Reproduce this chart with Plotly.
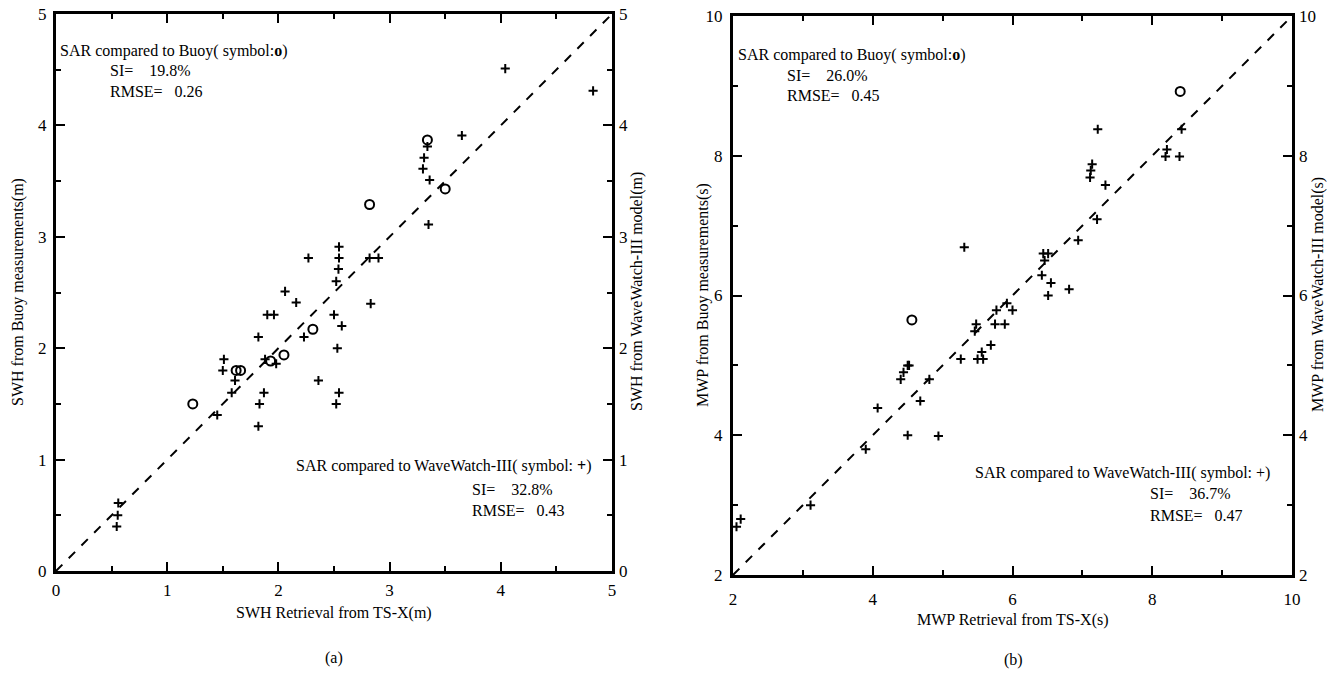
import plotly.graph_objects as go

W, H = 1336, 673

# ---- Panel (a) SWH ----
swh_buoy_x = [1.23, 1.62, 1.66, 1.93, 2.05, 2.31, 2.82, 3.34, 3.50]
swh_buoy_y = [1.50, 1.80, 1.80, 1.885, 1.94, 2.17, 3.29, 3.87, 3.43]
swh_ww3_x = [0.56, 0.555, 0.546, 1.45, 1.50, 1.51, 1.58, 1.61, 1.82, 1.83, 1.82, 1.87, 1.88,
             1.90, 1.96, 1.98, 2.06, 2.16, 2.23, 2.36, 2.50, 2.53, 2.57, 2.545, 2.52, 2.52,
             2.27, 2.545, 2.545, 2.54, 2.82, 2.90, 2.83, 3.35, 3.36, 3.30, 3.31, 3.34, 3.65,
             4.04, 4.83]
swh_ww3_y = [0.61, 0.50, 0.40, 1.40, 1.80, 1.90, 1.60, 1.71, 2.10, 1.50, 1.30, 1.60, 1.90,
             2.30, 2.30, 1.86, 2.51, 2.41, 2.10, 1.71, 2.30, 2.00, 2.20, 1.60, 1.50, 2.60,
             2.81, 2.91, 2.81, 2.71, 2.81, 2.81, 2.40, 3.11, 3.51, 3.61, 3.71, 3.81, 3.91,
             4.51, 4.31]
swh_diag = [0, 5]
swh_ticks = [0, 1, 2, 3, 4, 5]

# ---- Panel (b) MWP ----
mwp_buoy_x = [4.56, 8.40]
mwp_buoy_y = [5.65, 8.92]
mwp_ww3_x = [2.05, 2.11, 3.11, 3.90, 4.07, 4.40, 4.44, 4.50, 4.52, 4.50, 4.68, 4.81, 4.94,
             5.26, 5.46, 5.48, 5.50, 5.56, 5.58, 5.69, 5.75, 5.77, 5.89, 5.92, 6.00,
             5.31, 6.44, 6.51, 6.46, 6.42, 6.55, 6.51, 6.81, 6.94, 7.21, 7.33, 7.11, 7.12,
             7.14, 7.22, 8.19, 8.21, 8.39, 8.42]
mwp_ww3_y = [2.69, 2.80, 3.00, 3.80, 4.39, 4.80, 4.90, 5.00, 5.00, 4.00, 4.49, 4.80, 3.99,
             5.09, 5.49, 5.59, 5.09, 5.19, 5.09, 5.29, 5.59, 5.79, 5.59, 5.89, 5.79,
             6.69, 6.60, 6.60, 6.50, 6.29, 6.18, 6.00, 6.09, 6.79, 7.09, 7.58, 7.69, 7.79,
             7.88, 8.38, 7.99, 8.09, 7.99, 8.38]
mwp_diag = [2, 10]
mwp_ticks = [2, 4, 6, 8, 10]

FONT = "Liberation Serif"
fig = go.Figure()

plus = dict(symbol="cross-thin", size=6.5, line=dict(width=2, color="black"), color="black")
circ = dict(symbol="circle-open", size=9, line=dict(width=2, color="black"), color="black")

fig.add_trace(go.Scatter(x=swh_diag, y=swh_diag, mode="lines", line=dict(color="black", width=2, dash="dash"),
                         xaxis="x", yaxis="y", showlegend=False))
fig.add_trace(go.Scatter(x=swh_ww3_x, y=swh_ww3_y, mode="markers", marker=plus, xaxis="x", yaxis="y", showlegend=False))
fig.add_trace(go.Scatter(x=swh_buoy_x, y=swh_buoy_y, mode="markers", marker=circ, xaxis="x", yaxis="y", showlegend=False))

fig.add_trace(go.Scatter(x=mwp_diag, y=mwp_diag, mode="lines", line=dict(color="black", width=2, dash="dash"),
                         xaxis="x2", yaxis="y2", showlegend=False))
fig.add_trace(go.Scatter(x=mwp_ww3_x, y=mwp_ww3_y, mode="markers", marker=plus, xaxis="x2", yaxis="y2", showlegend=False))
fig.add_trace(go.Scatter(x=mwp_buoy_x, y=mwp_buoy_y, mode="markers", marker=circ, xaxis="x2", yaxis="y2", showlegend=False))
# invisible traces to activate right-side axes
fig.add_trace(go.Scatter(x=[None], y=[None], xaxis="x", yaxis="y3", showlegend=False))
fig.add_trace(go.Scatter(x=[None], y=[None], xaxis="x2", yaxis="y4", showlegend=False))

def px_x(p):
    return p / W

def px_y(p):
    return 1 - p / H

tickfont = dict(family=FONT, size=17, color="black")

def ax(rng, dom, ticks, minor_dtick, anchor, standoff):
    return dict(range=rng, domain=dom, tickvals=ticks, ticktext=[str(t) for t in ticks], ticks="inside",
                ticklen=9, tickwidth=2, tickcolor="black", showgrid=False, zeroline=False,
                showline=True, linewidth=3, linecolor="black", mirror="ticks", automargin=False,
                tickfont=tickfont, anchor=anchor, ticklabelstandoff=standoff,
                minor=dict(ticks="inside", ticklen=5, tickwidth=1.5, tickcolor="black",
                           dtick=minor_dtick, showgrid=False))

def right_ax(rng, ticks, overlay, anchor):
    return dict(range=rng, tickvals=ticks, ticktext=[str(t) for t in ticks], side="right",
                overlaying=overlay, anchor=anchor, showline=False, ticks="", showgrid=False,
                zeroline=False, tickfont=tickfont, ticklabelstandoff=6, automargin=False)

xa_dom = [px_x(56), px_x(612)]
ya_dom = [px_y(571), px_y(14)]
xb_dom = [px_x(733), px_x(1292)]
yb_dom = [px_y(575), px_y(16)]

fig.update_layout(
    width=W, height=H, margin=dict(l=0, r=0, t=0, b=0, pad=0, autoexpand=False),
    paper_bgcolor="white", plot_bgcolor="white",
    xaxis=ax([0, 5], xa_dom, swh_ticks, 0.5, "y", 2),
    yaxis=ax([0, 5], ya_dom, swh_ticks, 0.5, "x", 3),
    yaxis3=right_ax([0, 5], swh_ticks, "y", "x"),
    xaxis2=ax([2, 10], xb_dom, mwp_ticks, 1, "y2", 7),
    yaxis2=ax([2, 10], yb_dom, mwp_ticks, 1, "x2", 4),
    yaxis4=right_ax([2, 10], mwp_ticks, "y2", "x2"),
)

NB = "\u00a0"
anns = [
    # panel a
    (58, 51, "SAR compared to Buoy( symbol:<b>o</b>)", "left", 0),
    (108, 71, "SI=" + NB * 4 + "19.8%", "left", 0),
    (108, 92, "RMSE=" + NB * 3 + "0.26", "left", 0),
    (294, 466, "SAR compared to WaveWatch-III( symbol: <b>+</b>)", "left", 0),
    (470, 489, "SI=" + NB * 4 + "32.8%", "left", 0),
    (470, 510, "RMSE=" + NB * 3 + "0.43", "left", 0),
    (334, 613, "SWH Retrieval from TS-X(m)", "center", 0),
    (334, 658, "(a)", "center", 0),
    (18, 292, "SWH from Buoy measurements(m)", "center", -90),
    (637, 292, "SWH from WaveWatch-III model(m)", "center", -90),
    # panel b
    (736, 55, "SAR compared to Buoy( symbol:<b>o</b>)", "left", 0),
    (785, 75, "SI=" + NB * 4 + "26.0%", "left", 0),
    (785, 96, "RMSE=" + NB * 3 + "0.45", "left", 0),
    (973, 473, "SAR compared to WaveWatch-III( symbol: +)", "left", 0),
    (1148, 494, "SI=" + NB * 4 + "36.7%", "left", 0),
    (1148, 515, "RMSE=" + NB * 3 + "0.47", "left", 0),
    (1013, 620, "MWP Retrieval from TS-X(s)", "center", 0),
    (1013, 660, "(b)", "center", 0),
    (703, 295, "MWP from Buoy measurements(s)", "center", -90),
    (1318, 295, "MWP from WaveWatch-III model(s)", "center", -90),
]
for x, y, t, xa, ang in anns:
    fig.add_annotation(x=px_x(x), y=px_y(y), xref="paper", yref="paper", text=t, showarrow=False,
                       xanchor=xa, yanchor="middle", textangle=ang,
                       font=dict(family=FONT, size=16, color="black"))

fig.write_html("out.html")
